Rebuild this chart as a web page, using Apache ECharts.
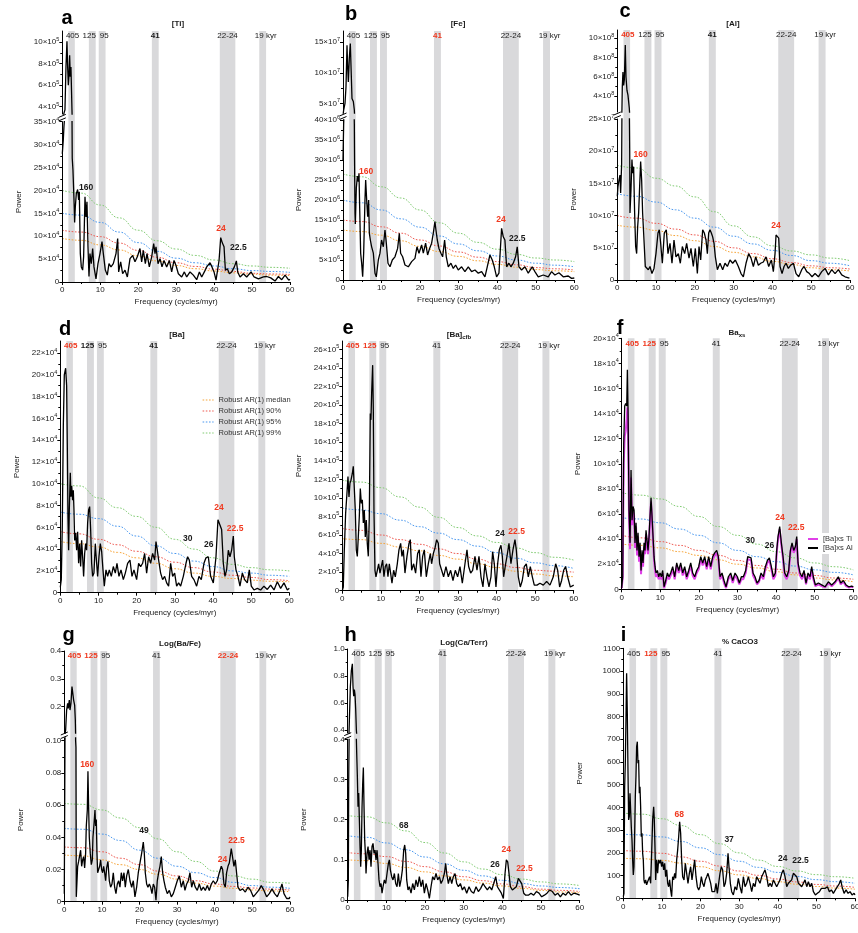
<!DOCTYPE html>
<html>
<head>
<meta charset="utf-8">
<script src="https://cdn.jsdelivr.net/npm/echarts@6/dist/echarts.min.js"></script>
<style>
  html, body { margin: 0; padding: 0; background: #fff; }
  #chart { width: 858px; height: 933px; }
</style>
</head>
<body>
<div id="chart"></div>
<script>
// ---------------------------------------------------------------------------
// Spectral power of the geochemical records, frequency in cycles/myr.
// Each record is a list of [frequency, power] pairs; power is stored in the
// unit shown on the lower axis of its panel (e.g. x10^4 for [Ti]).
// ---------------------------------------------------------------------------

// [Ti] (power x10^4)
const tiPower = [[0,28],[0.26,31],[0.44,34],[0.70,37],[0.97,77],[1.23,101],[1.41,77],[1.58,60],[1.76,69],[1.93,88],[2.11,68],[2.28,77],[2.55,37],[2.62,27],[2.81,24.4],[3.08,18],[3.25,13],[3.43,16.4],[3.69,19.3],[4.04,20.2],[4.31,17.9],[4.48,19.7],[4.75,6.2],[5.01,3.3],[5.36,2.6],[5.62,5.5],[5.98,18.6],[6.24,14.2],[6.50,17.5],[6.77,7.7],[7.03,1.2],[7.29,6.2],[7.64,4.0],[8.00,7.3],[8.35,3.3],[8.88,0.7],[9.40,4.0],[9.93,6.2],[10.46,8.8],[10.81,6.2],[11.34,2.6],[11.86,1.5],[12.30,4.0],[12.83,3.3],[13.44,4.0],[14.15,6.2],[14.59,9.5],[14.85,2.2],[15.38,4.4],[15.90,1.8],[16.52,2.6],[17.14,1.1],[17.84,5.1],[18.54,5.8],[19.16,4.4],[19.77,5.5],[20.47,7.3],[20.91,4.4],[21.35,6.9],[21.88,4.0],[22.32,6.2],[22.93,3.3],[23.55,5.5],[24.08,8.4],[24.43,6.2],[24.69,7.7],[25.22,4.0],[25.75,5.1],[26.27,3.3],[26.80,4.7],[27.50,3.3],[28.21,4.7],[28.82,2.2],[29.44,4.7],[29.96,3.6],[30.58,1.8],[31.46,1.1],[32.16,2.2],[32.78,1.1],[33.66,2.2],[34.53,1.5],[35.41,0.5],[36.12,2.2],[36.73,1.1],[37.43,2.2],[38.05,3.3],[38.93,4.2],[39.44,3.3],[39.98,2.2],[40.51,0.4],[40.86,0.2],[41.30,4.7],[41.74,9.7],[42.18,8.5],[42.62,7.7],[42.97,2.6],[43.50,2.9],[44.02,1.8],[44.64,2.2],[45.34,3.3],[45.87,4.6],[46.22,2.2],[46.84,1.1],[47.72,1.8],[48.59,1.1],[49.74,2.2],[50.53,1.1],[51.67,0.7],[52.99,1.1],[53.87,1.2],[54.92,0.9],[56.06,0.2],[56.94,1.2],[57.82,0.5],[58.70,1.5],[59.67,0.4],[60,0.6]];

// [Fe] (power x10^6)
const fePower = [[0,30],[0.17,39],[0.52,50],[0.78,77],[1.04,145],[1.21,110],[1.38,85],[1.64,124],[1.90,148],[2.16,94],[2.33,58],[2.68,53],[2.94,39],[3.0,30],[3.11,16.7],[3.2,14],[3.46,23],[3.72,26],[3.98,24.6],[4.15,26.7],[4.32,18.3],[4.58,6.7],[4.84,4.2],[5.10,0.8],[5.36,6.7],[5.70,20],[5.88,25],[6.14,20],[6.40,15.8],[6.66,20],[6.83,11.7],[7.09,10],[7.43,8.3],[7.87,6.7],[8.30,1.7],[8.64,0.8],[9.16,5],[9.59,6.7],[10.0,10],[10.46,8.3],[10.89,12.5],[11.24,9.2],[11.67,4.2],[12.19,3.3],[12.79,5],[13.48,5.8],[14.17,7.9],[14.61,11.7],[14.95,6.7],[15.47,5.8],[16.08,3.75],[16.94,3.3],[17.81,4.6],[18.67,5.4],[19.19,8.3],[19.71,6.7],[20.40,8.75],[20.83,6.7],[21.43,9.2],[21.95,6.25],[22.47,7.9],[22.99,9.2],[23.42,11.7],[23.85,14.6],[24.11,12.5],[24.46,10],[24.89,7.9],[25.41,6.7],[25.84,5.8],[26.36,10],[26.79,5.8],[27.31,3.3],[28.0,4.2],[28.61,2.9],[29.21,3.75],[29.90,2.5],[30.77,3.3],[31.63,2.1],[32.50,3.3],[33.36,2.1],[34.23,2.5],[35.09,1.7],[35.96,2.1],[36.82,0.8],[37.42,3.3],[38.11,6.25],[38.72,5],[39.24,3.3],[39.84,0.8],[40.45,1.7],[41.14,12.9],[41.57,10.8],[42.0,10],[42.44,3.3],[43.04,4.2],[43.56,3.3],[44.17,4.2],[44.77,5.8],[45.20,8.3],[45.64,3.3],[46.33,2.5],[47.19,3.3],[48.05,1.7],[49.09,3.3],[49.78,2.1],[50.65,0.8],[51.95,1.25],[53.24,0.8],[54.10,2.1],[54.97,1.25],[56.01,1.8],[57.13,0.8],[58.43,1.0],[59.29,0.4],[60,0.5]];

// [Al] (power x10^7)
const alPower = [[0,13],[0.17,14.5],[0.43,15.5],[0.69,16.3],[0.86,13.5],[1.12,18],[1.2,26],[1.29,49.7],[1.46,65],[1.63,51],[1.81,56.7],[2.06,93],[2.24,60],[2.49,46],[2.75,41],[3.10,27],[3.2,20],[3.27,10.4],[3.53,14],[3.78,18.7],[3.96,16.6],[4.21,17.6],[4.47,10.4],[4.73,5.2],[4.99,4.1],[5.25,8.3],[5.50,10.4],[5.76,14.5],[6.02,18.4],[6.28,15.5],[6.53,10.4],[6.88,6.2],[7.22,2.1],[7.57,2.3],[8.0,1.6],[8.43,2.1],[8.94,1.0],[9.46,1.8],[9.97,4.1],[10.49,7.3],[10.83,7.8],[11.18,5.7],[11.61,2.6],[12.12,7.3],[12.64,7.8],[13.07,4.1],[13.59,5.7],[14.10,2.6],[14.62,6.2],[15.13,3.6],[15.74,4.1],[16.25,2.6],[16.77,5.2],[17.37,4.1],[17.88,5.7],[18.49,3.4],[19.0,4.9],[19.60,2.1],[20.12,4.9],[20.64,1.0],[21.07,5.2],[21.50,3.1],[22.01,7.8],[22.44,7.3],[22.87,6.2],[23.22,4.1],[23.56,7.3],[23.90,7.8],[24.25,7.3],[24.59,6.7],[24.94,5.7],[25.28,3.6],[25.80,1.6],[26.48,2.6],[27.17,1.6],[27.77,2.6],[28.38,2.1],[29.06,3.1],[29.75,2.6],[30.44,3.1],[31.21,2.1],[31.90,1.0],[32.50,0.5],[33.19,2.6],[33.88,4.1],[34.48,3.4],[35.08,2.1],[35.68,3.6],[36.37,2.3],[36.97,2.6],[37.66,2.8],[38.35,3.6],[39.04,2.1],[39.72,3.1],[40.24,1.3],[40.67,4.1],[40.93,7.0],[41.27,7.0],[41.62,6.5],[41.96,2.1],[42.48,1.0],[42.99,2.1],[43.51,2.6],[44.11,1.8],[44.71,2.3],[45.40,2.6],[46.09,1.0],[46.78,0.5],[47.55,1.6],[48.15,2.1],[48.84,1.3],[49.53,1.0],[50.21,0.5],[50.99,1.0],[51.85,0.5],[52.71,1.3],[53.57,1.8],[54.43,0.8],[55.29,1.6],[56.15,1.0],[57.01,1.6],[57.87,0.8],[58.73,0.5],[59.85,0.3],[60,0.3]];

// [Ba] (power x10^4)
const baPower = [[0,0.5],[0.26,1.2],[0.52,6.1],[0.79,15.3],[1.05,20],[1.40,20.6],[1.66,19],[1.83,13.7],[2.01,7],[2.18,3.9],[2.36,7.6],[2.62,11],[2.79,8.8],[2.97,9.8],[3.23,8.5],[3.41,9.4],[3.58,7.6],[3.76,4.8],[4.02,5.5],[4.28,3.9],[4.54,5.6],[4.80,2.7],[5.07,4.5],[5.33,2.4],[5.59,4.8],[5.85,3.3],[6.11,1.5],[6.38,3.6],[6.64,4.5],[6.90,3.9],[7.16,6.4],[7.42,7.6],[7.69,7.9],[7.95,5.8],[8.21,2.7],[8.47,1.5],[8.82,1.8],[9.17,4.5],[9.52,2.7],[9.78,1.5],[10.13,3.3],[10.48,4.5],[10.83,3.8],[11.18,2.1],[11.53,0.6],[11.97,2.1],[12.40,1.5],[12.84,2.1],[13.36,1.5],[13.89,2.4],[14.41,1.8],[14.85,2.7],[15.37,1.5],[15.90,2.1],[16.51,1.2],[17.03,1.8],[17.64,2.7],[18.25,3.0],[18.78,1.5],[19.30,2.1],[20.0,1.2],[20.52,2.7],[21.05,2.4],[21.57,2.7],[22.10,3.6],[22.62,1.8],[23.14,3.3],[23.67,2.7],[24.19,3.6],[24.72,3.0],[25.07,4.7],[25.42,3.9],[25.76,3.0],[26.29,1.8],[26.81,1.2],[27.34,1.5],[27.86,0.9],[28.38,0.6],[28.91,2.7],[29.43,1.5],[29.96,1.8],[30.48,0.6],[31.0,0.9],[31.53,0.6],[32.23,1.5],[32.93,2.7],[33.36,3.3],[33.80,3.0],[34.41,1.5],[35.02,1.2],[35.72,0.6],[36.33,1.5],[36.94,1.2],[37.64,2.7],[38.17,3.2],[38.78,3.3],[39.39,1.5],[40.09,0.9],[40.79,3.3],[41.31,6.7],[41.83,6.8],[42.27,5.8],[42.71,2.7],[43.14,1.5],[43.58,2.1],[44.02,3.9],[44.45,3.3],[44.89,3.9],[45.33,5.2],[45.59,3.3],[46.03,2.1],[46.55,1.5],[47.07,0.6],[47.69,1.8],[48.30,1.2],[49.0,0.9],[49.52,2.1],[50.04,0.6],[50.74,0.25],[51.62,0.4],[52.49,0.25],[53.36,0.6],[54.24,0.3],[55.11,0.7],[55.99,0.25],[56.86,1.0],[57.73,0.4],[58.60,0.9],[59.48,0.25],[60,0.4]];

// [Ba]cfb (power x10^5)
const baCfbPower = [[0,0],[0.26,0.4],[0.52,4.4],[0.86,8.3],[1.21,10.5],[1.47,12.3],[1.73,10.1],[1.99,11.6],[2.25,11.9],[2.59,12.6],[2.85,13.4],[3.11,13.4],[3.37,8.7],[3.63,4.4],[3.89,3.7],[4.15,5.8],[4.41,8.0],[4.67,11.0],[4.93,9.4],[5.19,9.8],[5.45,7.3],[5.70,8.7],[5.96,5.8],[6.22,7.6],[6.48,5.1],[6.74,3.7],[7.0,8.0],[7.26,19.1],[7.43,18.4],[7.61,21.3],[7.87,24.3],[8.04,19.5],[8.21,8.7],[8.47,2.2],[8.73,1.5],[9.08,2.2],[9.42,2.9],[9.77,1.9],[10.11,2.6],[10.46,3.3],[10.80,1.5],[11.15,2.6],[11.50,2.9],[11.84,1.5],[12.19,2.9],[12.53,1.9],[12.88,0.8],[13.31,2.2],[13.74,1.5],[14.26,2.9],[14.69,4.4],[15.13,5.1],[15.47,3.7],[15.82,4.4],[16.25,1.9],[16.77,3.7],[17.29,5.1],[17.63,5.5],[17.98,2.2],[18.50,2.9],[19.01,1.9],[19.53,4.0],[19.97,4.4],[20.40,1.5],[20.83,3.7],[21.26,4.4],[21.78,1.5],[22.30,2.9],[22.82,4.0],[23.16,2.9],[23.60,4.0],[24.03,4.6],[24.46,5.5],[24.89,5.1],[25.24,2.9],[25.76,2.2],[26.27,1.5],[26.88,2.6],[27.49,1.5],[28.09,2.2],[28.70,1.1],[29.30,2.2],[29.90,1.5],[30.51,2.6],[31.12,0.8],[31.81,2.9],[32.33,4.4],[32.76,2.6],[33.28,1.9],[33.79,2.2],[34.40,3.7],[34.92,2.2],[35.44,3.7],[35.96,1.5],[36.47,0.4],[36.99,2.9],[37.51,1.5],[38.03,0.4],[38.55,1.5],[38.98,4.2],[39.41,2.9],[39.84,0.4],[40.28,2.9],[40.71,4.4],[41.14,4.9],[41.49,3.7],[41.83,1.5],[42.35,2.9],[42.70,3.7],[43.22,5.1],[43.73,2.9],[44.25,4.4],[44.77,5.5],[45.12,4.4],[45.64,1.5],[46.15,0.4],[46.67,1.1],[47.19,2.6],[47.71,2.9],[48.23,1.5],[48.75,2.6],[49.27,1.5],[49.78,0.6],[50.48,0.6],[51.25,0.8],[52.12,0.6],[52.98,1.0],[53.85,0.6],[54.71,1.5],[55.32,2.9],[55.84,2.2],[56.35,0.4],[56.87,1.1],[57.39,2.2],[57.91,2.6],[58.43,1.5],[59.12,0.4],[60,0.6]];

// Ba excess, Al-normalised (power x10^4)
const baXsAlPower = [[0,0.1],[0.26,1.0],[0.52,11.6],[0.78,14.6],[1.04,14.8],[1.30,14.6],[1.47,17.5],[1.64,14.3],[1.90,6.3],[2.16,3.7],[2.42,9.5],[2.68,5.5],[2.94,6.6],[3.20,6.3],[3.45,3.7],[3.71,5.3],[3.97,3.1],[4.23,4.5],[4.49,2.6],[4.75,3.7],[5.01,1.5],[5.27,3.1],[5.53,2.1],[5.79,3.7],[6.05,3.1],[6.30,4.7],[6.56,3.9],[6.82,3.1],[7.08,4.2],[7.34,5.8],[7.60,7.3],[7.86,5.8],[8.12,4.2],[8.38,2.6],[8.64,1.8],[8.89,1.3],[9.24,1.5],[9.59,1.0],[9.93,1.3],[10.28,1.0],[10.62,1.5],[10.97,0.2],[11.40,0.7],[11.83,1.3],[12.26,1.0],[12.69,1.3],[13.21,1.8],[13.73,1.0],[14.25,2.1],[14.77,1.5],[15.28,2.1],[15.80,1.3],[16.32,1.8],[16.84,1.0],[17.36,1.5],[17.88,2.1],[18.39,1.3],[18.91,1.0],[19.43,1.5],[19.95,1.8],[20.47,2.6],[20.98,2.1],[21.50,2.6],[22.02,1.8],[22.54,2.6],[23.06,1.8],[23.58,2.6],[24.09,2.9],[24.61,3.1],[25.04,2.6],[25.47,1.0],[25.99,1.3],[26.51,0.7],[27.03,0.2],[27.63,1.0],[28.24,1.3],[28.76,0.7],[29.36,1.3],[29.97,1.0],[30.48,0.5],[31.0,1.0],[31.52,1.0],[32.12,1.5],[32.64,2.6],[33.07,2.7],[33.51,2.5],[34.02,1.3],[34.54,1.0],[35.06,0.5],[35.58,0.7],[36.10,1.3],[36.70,1.0],[37.22,1.8],[37.74,2.3],[38.26,2.5],[38.77,1.8],[39.29,1.0],[39.81,1.3],[40.16,3.1],[40.50,4.2],[40.93,5.0],[41.36,3.7],[41.80,2.6],[42.23,1.3],[42.75,1.0],[43.26,1.5],[43.70,3.1],[44.13,3.7],[44.56,3.1],[44.99,3.4],[45.34,4.2],[45.68,2.1],[46.20,1.3],[46.72,1.0],[47.24,1.5],[47.75,0.5],[48.27,1.3],[48.79,1.0],[49.22,1.8],[49.65,1.0],[50.17,0.35],[50.95,0.5],[51.81,0.35],[52.68,0.2],[53.54,0.6],[54.40,0.35],[55.27,0.6],[56.13,1.0],[56.74,0.5],[57.43,0.7],[58.12,0.35],[58.81,0.2],[59.59,0.25],[60,0.2]];

// Ba excess, Ti-normalised (power x10^4)
const baXsTiPower = [[0,0.1],[0.26,0.9],[0.52,10],[0.78,12.2],[1.04,12.6],[1.30,13.6],[1.47,14.5],[1.64,13.0],[1.90,5.8],[2.16,3.2],[2.42,8.9],[2.68,5.1],[2.94,6.2],[3.20,5.9],[3.45,3.3],[3.71,5.0],[3.97,2.7],[4.23,4.2],[4.49,2.2],[4.75,3.4],[5.01,1.2],[5.27,2.8],[5.53,1.8],[5.79,3.4],[6.05,2.8],[6.30,4.4],[6.56,3.6],[6.82,2.8],[7.08,3.9],[7.34,5.5],[7.60,7.0],[7.86,5.5],[8.12,3.9],[8.38,2.3],[8.64,1.5],[8.89,1.0],[9.24,1.2],[9.59,0.8],[9.93,1.0],[10.28,0.8],[10.62,1.3],[10.97,0.1],[11.40,0.5],[11.83,1.1],[12.26,0.8],[12.69,1.1],[13.21,1.6],[13.73,0.8],[14.25,1.9],[14.77,1.3],[15.28,1.9],[15.80,1.1],[16.32,1.6],[16.84,0.8],[17.36,1.3],[17.88,1.9],[18.39,1.1],[18.91,0.8],[19.43,1.3],[19.95,1.6],[20.47,2.4],[20.98,1.9],[21.50,2.4],[22.02,1.6],[22.54,2.4],[23.06,1.6],[23.58,2.4],[24.09,2.7],[24.61,2.9],[25.04,2.4],[25.47,0.8],[25.99,1.1],[26.51,0.5],[27.03,0.1],[27.63,0.8],[28.24,1.1],[28.76,0.5],[29.36,1.1],[29.97,0.8],[30.48,0.4],[31.0,0.8],[31.52,0.8],[32.12,1.3],[32.64,2.4],[33.07,2.5],[33.51,2.3],[34.02,1.1],[34.54,0.8],[35.06,0.4],[35.58,0.6],[36.10,1.1],[36.70,0.8],[37.22,1.6],[37.74,2.1],[38.26,2.3],[38.77,1.6],[39.29,0.8],[39.81,1.1],[40.16,2.9],[40.50,4.0],[40.93,4.8],[41.36,3.5],[41.80,2.4],[42.23,1.1],[42.75,0.8],[43.26,1.3],[43.70,2.9],[44.13,3.5],[44.56,2.9],[44.99,3.2],[45.34,4.0],[45.68,1.9],[46.20,1.1],[46.72,0.8],[47.24,1.3],[47.75,0.4],[48.27,1.1],[48.79,0.8],[49.22,1.6],[49.65,0.8],[50.17,0.25],[50.95,0.4],[51.81,0.25],[52.68,0.15],[53.54,0.5],[54.40,0.25],[55.27,0.5],[56.13,0.9],[56.74,0.4],[57.43,0.6],[58.12,0.25],[58.81,0.15],[59.59,0.2],[60,0.15]];

// Log(Ba/Fe)
const baFePower = [[0,0.005],[0.18,0.10],[0.35,0.116],[0.62,0.188],[0.89,0.212],[1.06,0.194],[1.33,0.224],[1.51,0.188],[1.77,0.212],[2.04,0.272],[2.30,0.278],[2.48,0.224],[2.75,0.206],[2.93,0.152],[3.01,0.10],[3.10,0.096],[3.19,0.003],[3.37,0.002],[3.55,0.022],[3.81,0.025],[4.08,0.026],[4.34,0.032],[4.61,0.022],[4.88,0.026],[5.14,0.028],[5.41,0.021],[5.67,0.030],[5.85,0.047],[6.12,0.057],[6.29,0.081],[6.47,0.059],[6.65,0.040],[6.91,0.030],[7.18,0.023],[7.45,0.026],[7.62,0.040],[7.89,0.048],[8.16,0.057],[8.33,0.047],[8.51,0.051],[8.69,0.030],[8.87,0.018],[9.13,0.020],[9.40,0.022],[9.66,0.026],[9.93,0.020],[10.20,0.018],[10.46,0.022],[10.73,0.018],[10.99,0.013],[11.26,0.021],[11.61,0.025],[11.97,0.013],[12.32,0.009],[12.68,0.011],[13.03,0.018],[13.39,0.009],[13.74,0.005],[14.10,0.011],[14.45,0.013],[14.80,0.009],[15.16,0.018],[15.51,0.013],[15.87,0.018],[16.22,0.009],[16.58,0.016],[17.02,0.020],[17.46,0.013],[17.91,0.009],[18.35,0.013],[18.79,0.003],[19.24,0.009],[19.68,0.018],[20.12,0.024],[20.57,0.030],[21.01,0.037],[21.28,0.030],[21.54,0.018],[21.90,0.011],[22.25,0.009],[22.61,0.011],[22.96,0.009],[23.32,0.005],[23.67,0.011],[24.02,0.009],[24.38,0.001],[24.73,0.013],[25.09,0.018],[25.44,0.022],[25.80,0.028],[26.15,0.018],[26.51,0.013],[26.86,0.009],[27.39,0.005],[27.93,0.007],[28.46,0.003],[28.99,0.005],[29.52,0.009],[30.05,0.013],[30.59,0.016],[31.12,0.009],[31.65,0.013],[32.09,0.007],[32.54,0.011],[32.98,0.013],[33.42,0.018],[33.87,0.009],[34.31,0.013],[34.84,0.009],[35.37,0.007],[35.90,0.011],[36.44,0.007],[36.97,0.009],[37.50,0.007],[38.03,0.010],[38.56,0.007],[39.10,0.011],[39.63,0.013],[40.16,0.011],[40.69,0.013],[41.22,0.018],[41.76,0.022],[42.11,0.020],[42.46,0.011],[42.82,0.009],[43.17,0.018],[43.53,0.022],[43.88,0.024],[44.41,0.033],[44.77,0.032],[45.12,0.022],[45.48,0.026],[45.83,0.026],[46.19,0.009],[46.72,0.007],[47.43,0.008],[48.14,0.006],[48.85,0.009],[49.56,0.007],[50.27,0.003],[50.98,0.005],[51.68,0.007],[52.39,0.010],[53.10,0.007],[53.81,0.003],[54.52,0.005],[55.23,0.008],[55.94,0.005],[56.65,0.003],[57.36,0.007],[57.89,0.011],[58.42,0.005],[59.13,0.002],[59.84,0.002],[60,0.003]];

// Log(Ca/Terr)
const caTerrPower = [[0,0.008],[0.17,0.05],[0.26,0.3],[0.43,0.47],[0.69,0.72],[0.95,0.84],[1.21,0.89],[1.38,0.72],[1.55,0.65],[1.72,0.70],[1.90,0.66],[2.07,0.55],[2.24,0.40],[2.33,0.365],[2.50,0.307],[2.67,0.232],[2.84,0.266],[3.02,0.199],[3.19,0.133],[3.36,0.083],[3.53,0.124],[3.71,0.232],[3.88,0.29],[4.05,0.33],[4.22,0.232],[4.40,0.149],[4.57,0.116],[4.74,0.066],[5.0,0.116],[5.26,0.133],[5.52,0.10],[5.78,0.124],[6.03,0.083],[6.29,0.133],[6.55,0.141],[6.81,0.116],[7.07,0.124],[7.33,0.10],[7.59,0.124],[7.84,0.091],[8.10,0.05],[8.36,0.033],[8.62,0.041],[8.88,0.017],[9.14,0.033],[9.48,0.05],[9.83,0.041],[10.17,0.066],[10.52,0.091],[10.78,0.10],[11.03,0.075],[11.38,0.058],[11.72,0.05],[12.07,0.066],[12.41,0.041],[12.76,0.033],[13.10,0.066],[13.45,0.033],[13.79,0.05],[14.14,0.075],[14.48,0.124],[14.74,0.137],[15.0,0.116],[15.26,0.05],[15.60,0.025],[15.95,0.033],[16.38,0.017],[16.81,0.041],[17.24,0.025],[17.67,0.05],[18.10,0.033],[18.53,0.058],[18.97,0.033],[19.40,0.05],[19.83,0.017],[20.26,0.041],[20.69,0.025],[21.12,0.004],[21.55,0.033],[21.98,0.058],[22.41,0.05],[22.84,0.066],[23.28,0.05],[23.71,0.058],[24.14,0.041],[24.57,0.05],[25.0,0.066],[25.34,0.091],[25.60,0.066],[26.03,0.041],[26.47,0.058],[26.90,0.041],[27.33,0.058],[27.76,0.066],[28.19,0.041],[28.62,0.033],[29.14,0.041],[29.66,0.025],[30.17,0.033],[30.78,0.017],[31.38,0.033],[31.98,0.021],[32.59,0.017],[33.19,0.033],[33.79,0.021],[34.40,0.029],[35.0,0.041],[35.52,0.033],[36.12,0.025],[36.72,0.033],[37.24,0.025],[37.76,0.041],[38.28,0.058],[38.71,0.033],[39.22,0.025],[39.74,0.017],[40.26,0.004],[40.69,0.066],[41.03,0.10],[41.38,0.095],[41.72,0.066],[42.07,0.033],[42.59,0.025],[43.10,0.029],[43.62,0.033],[44.14,0.054],[44.57,0.058],[45.0,0.041],[45.52,0.017],[46.03,0.012],[46.72,0.012],[47.41,0.017],[48.10,0.012],[48.79,0.021],[49.48,0.017],[50.17,0.008],[50.86,0.012],[51.55,0.017],[52.24,0.025],[52.93,0.021],[53.62,0.012],[54.31,0.017],[55.0,0.008],[55.69,0.017],[56.38,0.012],[57.07,0.021],[57.76,0.012],[58.45,0.017],[59.2,0.015],[60,0.012]];

// % CaCO3
const caco3Power = [[0,7],[0.17,22],[0.35,491],[0.52,594],[0.69,784],[0.86,990],[1.04,814],[1.21,565],[1.38,345],[1.55,359],[1.73,462],[1.90,389],[2.07,315],[2.25,257],[2.42,169],[2.59,103],[2.76,139],[2.94,286],[3.11,447],[3.28,535],[3.45,667],[3.63,689],[3.80,594],[3.97,608],[4.15,462],[4.32,491],[4.49,403],[4.66,271],[4.84,286],[5.01,198],[5.18,169],[5.35,81],[5.53,66],[5.79,81],[6.04,59],[6.30,73],[6.56,66],[6.82,95],[7.08,66],[7.34,198],[7.60,345],[7.86,403],[8.03,345],[8.20,227],[8.38,81],[8.64,169],[8.89,110],[9.15,169],[9.41,154],[9.67,169],[9.93,139],[10.19,161],[10.45,125],[10.71,154],[10.97,95],[11.23,125],[11.49,66],[11.74,51],[12.0,81],[12.26,37],[12.52,7],[12.78,95],[13.04,81],[13.30,110],[13.56,88],[13.82,169],[14.08,213],[14.34,271],[14.59,337],[14.85,286],[15.11,169],[15.37,95],[15.72,81],[16.06,154],[16.41,110],[16.75,66],[17.10,110],[17.44,139],[17.79,81],[18.13,125],[18.48,169],[18.83,95],[19.17,51],[19.52,37],[19.86,51],[20.21,95],[20.55,66],[20.90,51],[21.24,81],[21.59,95],[21.93,110],[22.28,110],[22.63,66],[22.97,29],[23.32,37],[23.66,29],[24.01,66],[24.35,22],[24.70,15],[25.04,110],[25.39,139],[25.73,125],[26.08,51],[26.42,66],[26.77,110],[27.12,198],[27.37,139],[27.72,66],[28.07,29],[28.50,15],[28.93,51],[29.36,37],[29.79,88],[30.22,51],[30.66,22],[31.09,95],[31.52,51],[31.95,66],[32.38,95],[32.82,66],[33.25,29],[33.68,66],[34.11,51],[34.54,95],[34.97,81],[35.41,66],[35.84,95],[36.27,110],[36.70,125],[37.13,95],[37.56,51],[38.0,66],[38.43,51],[38.86,81],[39.29,66],[39.72,51],[40.16,66],[40.59,81],[41.02,110],[41.45,125],[41.88,95],[42.31,51],[42.75,66],[43.18,66],[43.61,81],[44.04,110],[44.47,117],[44.91,95],[45.34,66],[45.77,73],[46.20,51],[46.63,66],[47.06,81],[47.50,51],[47.93,73],[48.36,51],[48.79,66],[49.22,29],[49.74,15],[50.26,22],[50.78,29],[51.30,44],[51.81,51],[52.33,44],[52.85,51],[53.37,29],[53.89,37],[54.40,22],[54.92,37],[55.44,51],[55.96,66],[56.30,81],[56.65,51],[57.17,22],[57.69,37],[58.20,22],[58.72,29],[59.24,15],[59.76,22],[60,15]];

// Robust AR(1) red-noise levels, sampled at these frequencies
const AR_FREQ = [0, 5, 10, 15, 20, 25, 30, 35, 40, 45, 50, 55, 60];
const arTi = { median: [9.5,9.1,8.1,7.0,5.7,4.6,3.6,2.9,2.4,2.0,1.7,1.5,1.4], p90: [11.3,10.9,9.9,8.5,6.9,5.4,4.2,3.4,2.8,2.3,1.9,1.75,1.65], p95: [15.0,14.6,13.0,10.9,8.6,6.7,5.2,4.2,3.5,2.9,2.5,2.3,2.1], p99: [20,19.4,16.8,14.0,11.3,9.0,7.2,5.8,4.8,4.0,3.5,3.2,3.0] };
const arFe = { median: [12.5,12.1,11.2,9.8,8.4,7.1,5.9,4.8,3.9,3.2,2.6,2.3,2.1], p90: [15.0,14.6,13.3,11.7,10.0,8.5,7.0,5.7,4.6,3.8,3.1,2.8,2.5], p95: [20.0,19.3,17.5,15.3,13.2,11.0,9.0,7.3,6.0,5.0,4.2,3.7,3.3], p99: [26.5,25.8,23.3,20.5,17.5,14.3,11.7,9.4,7.7,6.4,5.5,5.0,4.6] };
const arAl = { median: [8.5,8.2,7.7,6.9,6.1,5.2,4.3,3.6,2.9,2.4,1.9,1.6,1.4], p90: [10.0,9.6,8.8,7.9,7.0,6.0,5.0,4.1,3.3,2.7,2.2,1.9,1.7], p95: [13.4,13.0,12.1,10.9,9.6,8.2,6.8,5.6,4.6,3.8,3.0,2.6,2.2], p99: [17.8,17.4,15.8,14.6,12.9,10.6,8.4,6.7,5.3,4.5,3.9,3.4,3.0] };
const arBa = { median: [4.7,4.5,4.2,3.7,3.2,2.7,2.2,1.8,1.5,1.3,1.15,1.05,1.0], p90: [5.6,5.4,4.9,4.4,3.8,3.3,2.8,2.3,1.9,1.6,1.4,1.2,1.1], p95: [7.4,7.2,6.8,6.1,5.2,4.3,3.6,2.9,2.4,2.0,1.8,1.6,1.5], p99: [10.0,9.8,8.7,7.8,7.0,6.0,4.9,4.0,3.2,2.6,2.3,2.1,2.0] };
const arBaCfb = { median: [5.6,5.5,5.1,4.7,4.3,3.8,3.4,2.9,2.5,2.1,1.8,1.6,1.5], p90: [6.7,6.5,6.0,5.5,5.0,4.5,4.0,3.4,2.9,2.5,2.2,2.1,2.0], p95: [8.9,8.7,8.3,7.6,6.9,6.2,5.5,4.8,4.1,3.5,3.0,2.7,2.4], p99: [11.9,11.7,11.1,10.1,9.0,7.9,6.8,5.9,5.2,4.6,4.1,3.6,3.3] };
const arBaXs = { median: [3.6,3.5,3.3,3.0,2.7,2.35,2.0,1.7,1.4,1.15,0.9,0.75,0.6], p90: [4.3,4.1,3.8,3.5,3.1,2.7,2.3,1.9,1.6,1.3,1.1,0.9,0.8], p95: [5.7,5.6,5.3,4.8,4.3,3.7,3.1,2.6,2.2,1.85,1.55,1.35,1.15], p99: [7.7,7.5,7.2,6.6,5.8,5.0,4.3,3.6,3.0,2.5,2.1,1.8,1.55] };
const arBaFe = { median: [0.029,0.0285,0.026,0.023,0.020,0.017,0.014,0.0115,0.0097,0.0083,0.0073,0.0067,0.0062], p90: [0.034,0.0335,0.031,0.027,0.023,0.019,0.016,0.013,0.011,0.0095,0.0085,0.0078,0.0072], p95: [0.0455,0.045,0.042,0.038,0.032,0.027,0.022,0.018,0.015,0.012,0.010,0.009,0.0083], p99: [0.061,0.0605,0.057,0.052,0.046,0.039,0.031,0.025,0.019,0.016,0.014,0.012,0.0115] };
const arCaTerr = { median: [0.10,0.098,0.091,0.081,0.07,0.06,0.05,0.042,0.035,0.029,0.024,0.02,0.018], p90: [0.118,0.115,0.108,0.096,0.083,0.07,0.058,0.048,0.04,0.033,0.027,0.024,0.021], p95: [0.16,0.156,0.142,0.125,0.107,0.09,0.074,0.06,0.049,0.041,0.035,0.031,0.028], p99: [0.21,0.207,0.192,0.172,0.143,0.117,0.095,0.077,0.063,0.052,0.045,0.04,0.036] };
const arCaco3 = { median: [176,174,167,155,139,121,103,87,73,62,52,45,40], p90: [210,207,198,182,163,142,120,101,85,72,61,54,48], p95: [282,279,270,250,222,192,163,136,114,96,82,73,66], p99: [375,370,350,320,280,240,200,168,140,120,104,95,88] };

// Orbital bands (cycles/myr) and their period labels
const BANDS = [[1.6, 3.3], [7.0, 8.8], [9.6, 11.4], [23.6, 25.4], [41.5, 45.6], [51.9, 53.7]];
const BAND_LABELS = ['405', '125', '95', '41', '22-24', '19 kyr'];

// Peak annotations: [text, frequency, power, colour key]
const tiNotes = [['160', 6.3, 20.6, 'k'], ['24', 41.8, 11.7, 'r'], ['22.5', 46.4, 7.5, 'k']];
const feNotes = [['160', 6.0, 27.1, 'r'], ['24', 41.0, 15.0, 'r'], ['22.5', 45.2, 10.4, 'k']];
const alNotes = [['160', 6.0, 19.4, 'r'], ['24', 40.9, 8.4, 'r']];
const baNotes = [['30', 33.4, 5.0, 'k'], ['26', 38.9, 4.4, 'k'], ['24', 41.6, 7.8, 'r'], ['22.5', 45.8, 5.9, 'r']];
const baCfbNotes = [['24', 40.9, 6.1, 'k'], ['22.5', 45.2, 6.4, 'r']];
const baXsNotes = [['30', 33.3, 3.9, 'k'], ['26', 38.3, 3.5, 'k'], ['24', 41.0, 5.7, 'r'], ['22.5', 45.2, 4.9, 'r']];
const baFeNotes = [['160', 6.1, 0.085, 'r'], ['49', 21.2, 0.044, 'k'], ['24', 42.1, 0.026, 'r'], ['22.5', 45.8, 0.038, 'r']];
const caTerrNotes = [['68', 14.5, 0.184, 'k'], ['26', 38.1, 0.089, 'k'], ['24', 41.0, 0.126, 'r'], ['22.5', 45.7, 0.079, 'r']];
const caco3Notes = [['68', 14.5, 370, 'r'], ['37', 27.4, 257, 'k'], ['24', 41.3, 173, 'k'], ['22.5', 45.9, 164, 'k']];

// Y tick values (in the stored units)
const tiTicksLo = [0, 5, 10, 15, 20, 25, 30, 35];
const tiTicksUp = [40, 60, 80, 100];
const feTicksLo = [0, 5, 10, 15, 20, 25, 30, 35, 40];
const feTicksUp = [50, 100, 150];
const alTicksLo = [0, 5, 10, 15, 20, 25];
const alTicksUp = [40, 60, 80, 100];
const baTicks = [0, 2, 4, 6, 8, 10, 12, 14, 16, 18, 20, 22];
const baCfbTicks = [0, 2, 4, 6, 8, 10, 12, 14, 16, 18, 20, 22, 24, 26];
const baXsTicks = [0, 2, 4, 6, 8, 10, 12, 14, 16, 18, 20];
const baFeTicksLo = [0, 0.02, 0.04, 0.06, 0.08, 0.10];
const baFeTicksUp = [0.2, 0.3, 0.4];
const caTerrTicksLo = [0, 0.1, 0.2, 0.3, 0.4];
const caTerrTicksUp = [0.4, 0.6, 0.8, 1.0];
const caco3Ticks = [0, 100, 200, 300, 400, 500, 600, 700, 800, 900, 1000, 1100];

// ---------------------------------------------------------------------------
const FONT = '"Liberation Sans", Arial, Helvetica, sans-serif';
const RED = '#f0391f';
const INK = '#1a1a1a';
const BAND_GRAY = '#d9d9db';
const AR_KEYS = ['median', 'p90', 'p95', 'p99'];
const AR_NAMES = { median: 'Robust AR(1) median', p90: 'Robust AR(1) 90%', p95: 'Robust AR(1) 95%', p99: 'Robust AR(1) 99%' };
const AR_COLORS = { median: '#f6a53a', p90: '#ee5a52', p95: '#4a98ef', p99: '#82cc74' };
// small horizontal nudges of the band captions (px), as typeset
const BAND_LABEL_SHIFT = [[1, 0], [-3, 0], [2, 0], [0, 0], [0, 0], [3, 0]];

function sciFmt(exp, div) {
  return function (v) {
    if (v === 0) return '0';
    const m = Math.round((v / div) * 1000) / 1000;
    return m + '×10{s|' + exp + '}';
  };
}
function fixedFmt(d) {
  return function (v) { return v === 0 ? '0' : v.toFixed(d); };
}
function midpoints(arr) {
  const out = [];
  for (let i = 0; i + 1 < arr.length; i++) out.push(Math.round((arr[i] + arr[i + 1]) / 2 * 10000) / 10000);
  return out;
}

const PANELS = [
  { letter: 'a', letterPos: [67, 18], title: '[Ti]', titlePos: [178, 24], power: tiPower, ar: arTi, notes: tiNotes,
    bandStyle: ['n', 'n', 'n', 'b', 'n', 'n'], left: 62.3, width: 227.7,
    lo: { top: 121.7, bottom: 282, min: 0, max: 35, ticks: tiTicksLo, fmt: sciFmt(4, 1) },
    up: { top: 31, bottom: 114, min: 33.2, max: 110.5, ticks: tiTicksUp, fmt: sciFmt(5, 10) } },
  { letter: 'b', letterPos: [351, 14], title: '[Fe]', titlePos: [458, 24], power: fePower, ar: arFe, notes: feNotes,
    bandStyle: ['n', 'n', 'n', 'r', 'n', 'n'], left: 343, width: 231.3,
    lo: { top: 120, bottom: 280, min: 0, max: 40, ticks: feTicksLo, fmt: sciFmt(6, 1) },
    up: { top: 31, bottom: 113, min: 34.1, max: 168.5, ticks: feTicksUp, fmt: sciFmt(7, 10) } },
  { letter: 'c', letterPos: [625, 11], title: '[Al]', titlePos: [733, 24], power: alPower, ar: arAl, notes: alNotes,
    bandStyle: ['r', 'n', 'n', 'b', 'n', 'n'], left: 617.3, width: 232.7,
    lo: { top: 119, bottom: 280, min: 0, max: 25, ticks: alTicksLo, fmt: sciFmt(7, 1) },
    up: { top: 30, bottom: 112, min: 23.4, max: 108.6, ticks: alTicksUp, fmt: sciFmt(8, 10) } },
  { letter: 'd', letterPos: [65, 329], title: '[Ba]', titlePos: [177, 335], power: baPower, ar: arBa, notes: baNotes,
    bandStyle: ['r', 'b', 'n', 'b', 'n', 'n'], left: 60.3, width: 229,
    lo: { top: 341, bottom: 592.7, min: 0, max: 23.1, ticks: baTicks, fmt: sciFmt(4, 1) } },
  { letter: 'e', letterPos: [348, 328], title: '[Ba]{sub|cfb}', titlePos: [459, 335], power: baCfbPower, ar: arBaCfb, notes: baCfbNotes,
    bandStyle: ['r', 'r', 'n', 'n', 'n', 'n'], left: 342.3, width: 231.4,
    lo: { top: 341, bottom: 590.7, min: 0, max: 26.9, ticks: baCfbTicks, fmt: sciFmt(5, 1) } },
  { letter: 'f', letterPos: [620, 328], title: 'Ba{sub|xs}', titlePos: [737, 333], power: baXsAlPower, power2: baXsTiPower, ar: arBaXs, notes: baXsNotes,
    bandStyle: ['r', 'r', 'n', 'n', 'n', 'n'], left: 621.7, width: 231.6,
    lo: { top: 338.3, bottom: 589.3, min: 0, max: 20, ticks: baXsTicks, fmt: sciFmt(4, 1) } },
  { letter: 'g', letterPos: [68.5, 635], title: 'Log(Ba/Fe)', titlePos: [180, 644], power: baFePower, ar: arBaFe, notes: baFeNotes,
    bandStyle: ['r', 'r', 'n', 'n', 'r', 'n'], left: 64.3, width: 225.6,
    lo: { top: 738, bottom: 901.7, min: 0, max: 0.1017, ticks: baFeTicksLo, fmt: fixedFmt(2) },
    up: { top: 651, bottom: 733, min: 0.1056, max: 0.4, ticks: baFeTicksUp, fmt: fixedFmt(1) } },
  { letter: 'h', letterPos: [350.5, 635], title: 'Log(Ca/Terr)', titlePos: [464, 643], power: caTerrPower, ar: arCaTerr, notes: caTerrNotes,
    bandStyle: ['n', 'n', 'n', 'n', 'n', 'n'], left: 347.7, width: 232,
    lo: { top: 739.3, bottom: 900, min: 0, max: 0.4, ticks: caTerrTicksLo, fmt: fixedFmt(1) },
    up: { top: 649, bottom: 733, min: 0.378, max: 1.0, ticks: caTerrTicksUp, fmt: fixedFmt(1) } },
  { letter: 'i', letterPos: [623.5, 635], title: '% CaCO3', titlePos: [740, 642], power: caco3Power, ar: arCaco3, notes: caco3Notes,
    bandStyle: ['n', 'r', 'n', 'n', 'n', 'n'], left: 623.3, width: 231.7,
    lo: { top: 648.3, bottom: 898.3, min: 0, max: 1100, ticks: caco3Ticks, fmt: fixedFmt(0) } }
];

const grids = [], xAxes = [], yAxes = [], series = [], graphics = [];

function addGrid(left, top, width, height) {
  grids.push({ left: left, top: top, width: width, height: height, containLabel: false, outerBoundsMode: 'none' });
  return grids.length - 1;
}
function hiddenX(gi) {
  xAxes.push({ gridIndex: gi, type: 'value', min: 0, max: 60, show: false });
  return xAxes.length - 1;
}
function visibleX(gi) {
  xAxes.push({
    gridIndex: gi, type: 'value', min: 0, max: 60, interval: 10, z: 6,
    axisLine: { show: true, onZero: false, lineStyle: { color: '#000', width: 1 } },
    axisTick: { show: true, length: 3, lineStyle: { color: '#000' } },
    minorTick: { show: true, splitNumber: 2, length: 2, lineStyle: { color: '#000' } },
    axisLabel: { fontSize: 8, color: INK, margin: 4, fontFamily: FONT },
    splitLine: { show: false }, minorSplitLine: { show: false },
    name: 'Frequency (cycles/myr)', nameLocation: 'middle', nameGap: 16,
    nameTextStyle: { fontSize: 8, color: INK, fontFamily: FONT }
  });
  return xAxes.length - 1;
}
function valueY(gi, part, withName) {
  yAxes.push({
    gridIndex: gi, type: 'value', min: part.min, max: part.max, position: 'left', z: 6,
    axisLine: { show: true, onZero: false, lineStyle: { color: '#000', width: 1 } },
    axisTick: { show: true, length: 3, customValues: part.ticks, lineStyle: { color: '#000' } },
    axisLabel: {
      customValues: part.ticks, formatter: part.fmt, fontSize: 8, color: INK, margin: 3,
      fontFamily: FONT, lineHeight: 11,
      rich: { s: { fontSize: 5.5, lineHeight: 6, verticalAlign: 'top', color: INK, fontFamily: FONT } }
    },
    splitLine: { show: false },
    name: withName ? 'Power' : '', nameLocation: 'middle', nameGap: 40,
    nameTextStyle: { fontSize: 8, color: INK, fontFamily: FONT }
  });
  const main = yAxes.length - 1;
  // shorter minor ticks halfway between labelled ticks
  yAxes.push({
    gridIndex: gi, type: 'value', min: part.min, max: part.max, position: 'left',
    axisLine: { show: false }, axisLabel: { show: false }, splitLine: { show: false },
    axisTick: { show: true, length: 2, customValues: midpoints(part.ticks), lineStyle: { color: '#000' } }
  });
  return main;
}
function hiddenY(gi) {
  yAxes.push({ gridIndex: gi, type: 'value', min: 0, max: 1, show: false });
  return yAxes.length - 1;
}

function bandLabel(style, i) {
  return {
    color: style === 'r' ? RED : INK,
    fontWeight: style === 'n' ? 'normal' : 'bold',
    offset: BAND_LABEL_SHIFT[i]
  };
}

PANELS.forEach(function (p) {
  const topAll = p.up ? p.up.top : p.lo.top;
  // background grid carrying the orbital bands across the full panel height
  const gBg = addGrid(p.left, topAll, p.width, p.lo.bottom - topAll);
  const xBg = hiddenX(gBg), yBg = hiddenY(gBg);
  series.push({
    type: 'line', xAxisIndex: xBg, yAxisIndex: yBg, data: [], silent: true, z: 1,
    markArea: {
      silent: true,
      itemStyle: { color: BAND_GRAY, opacity: 1 },
      label: { show: true, position: 'insideTop', distance: 1, fontSize: 8, fontFamily: FONT },
      data: BANDS.map(function (b, i) {
        return [{ name: BAND_LABELS[i], xAxis: b[0], label: bandLabel(p.bandStyle[i], i) }, { xAxis: b[1] }];
      })
    }
  });

  // lower (main) grid
  const gLo = addGrid(p.left, p.lo.top, p.width, p.lo.bottom - p.lo.top);
  const xLo = visibleX(gLo);
  const yLo = valueY(gLo, p.lo, true);

  AR_KEYS.forEach(function (k) {
    series.push({
      type: 'line', name: AR_NAMES[k], xAxisIndex: xLo, yAxisIndex: yLo,
      data: AR_FREQ.map(function (f, i) { return [f, p.ar[k][i]]; }),
      smooth: 0.5, smoothMonotone: 'x', symbol: 'none', showSymbol: false, silent: true, z: 2,
      lineStyle: { color: AR_COLORS[k], width: 1, type: [1.6, 1.6] },
      itemStyle: { color: AR_COLORS[k] }
    });
  });

  if (p.power2) {
    series.push({
      type: 'line', name: '[Ba]xs Ti', xAxisIndex: xLo, yAxisIndex: yLo, data: p.power2,
      symbol: 'none', showSymbol: false, silent: true, clip: true, z: 3,
      lineStyle: { color: '#e040e8', width: 2 }, itemStyle: { color: '#e040e8' }
    });
  }

  series.push({
    type: 'line', name: p.power2 ? '[Ba]xs Al' : p.title, xAxisIndex: xLo, yAxisIndex: yLo, data: p.power,
    symbol: 'none', showSymbol: false, silent: true, clip: true, z: 4,
    lineStyle: { color: '#000', width: 1.3 }, itemStyle: { color: '#000' },
    markPoint: {
      silent: true, symbol: 'circle', symbolSize: 0,
      label: { show: true, position: 'inside', formatter: '{b}', fontSize: 8.5, fontWeight: 'bold', fontFamily: FONT },
      data: p.notes.map(function (n) {
        return { name: n[0], coord: [n[1], n[2]], label: { color: n[3] === 'r' ? RED : INK } };
      })
    }
  });

  // upper (compressed) grid above the axis break
  if (p.up) {
    const gUp = addGrid(p.left, p.up.top, p.width, p.up.bottom - p.up.top);
    const xUp = hiddenX(gUp);
    const yUp = valueY(gUp, p.up, false);
    series.push({
      type: 'line', xAxisIndex: xUp, yAxisIndex: yUp, data: p.power,
      symbol: 'none', showSymbol: false, silent: true, clip: true, z: 4,
      lineStyle: { color: '#000', width: 1.3 }
    });
    // break mark on the y axis
    const yc = (p.up.bottom + p.lo.top) / 2;
    [-2, 1.5].forEach(function (dy) {
      graphics.push({
        type: 'line', silent: true, z: 20,
        shape: { x1: p.left - 3.5, y1: yc + dy + 1.5, x2: p.left + 3.5, y2: yc + dy - 1.5 },
        style: { stroke: '#000', lineWidth: 1 }
      });
    });
  }

  // panel letter and record title
  graphics.push({
    type: 'text', x: p.letterPos[0], y: p.letterPos[1], silent: true, z: 20,
    style: { text: p.letter, fontSize: 20, fontWeight: 'bold', fontFamily: FONT, fill: '#000',
      textAlign: 'center', textVerticalAlign: 'middle', verticalAlign: 'middle' }
  });
  graphics.push({
    type: 'text', x: p.titlePos[0], y: p.titlePos[1], silent: true, z: 20,
    style: { text: p.title, fontSize: 8, fontWeight: 'bold', fontFamily: FONT, fill: INK, lineHeight: 10,
      textAlign: 'center', textVerticalAlign: 'middle', verticalAlign: 'middle',
      rich: { sub: { fontSize: 6, fontWeight: 'bold', fontFamily: FONT, fill: INK, lineHeight: 6, verticalAlign: 'bottom' } } }
  });
});

const chart = echarts.init(document.getElementById('chart'), null, { renderer: 'canvas' });
chart.setOption({
  animation: false,
  backgroundColor: '#fff',
  textStyle: { fontFamily: FONT },
  grid: grids,
  xAxis: xAxes,
  yAxis: yAxes,
  series: series,
  legend: [
    {
      data: AR_KEYS.map(function (k) { return AR_NAMES[k]; }),
      left: 202, top: 396, orient: 'vertical', itemGap: 3, itemWidth: 11, itemHeight: 8,
      selectedMode: false, padding: 0,
      itemStyle: { opacity: 0 },
      lineStyle: { width: 1.2 },
      textStyle: { fontSize: 7.5, color: '#333', fontFamily: FONT }
    },
    {
      data: ['[Ba]xs Ti', '[Ba]xs Al'],
      left: 805, top: 533, orient: 'vertical', itemGap: 1, itemWidth: 10, itemHeight: 8,
      selectedMode: false, padding: [2, 2, 2, 2], backgroundColor: '#fff',
      itemStyle: { opacity: 0 },
      textStyle: { fontSize: 7.5, color: '#333', fontFamily: FONT }
    }
  ],
  graphic: graphics
});
</script>
</body>
</html>
